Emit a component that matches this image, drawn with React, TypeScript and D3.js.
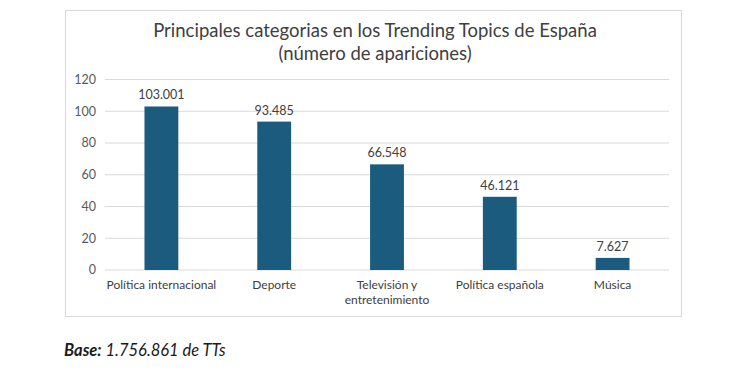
import React from "react";
import * as d3 from "d3";

const categories = ["Política internacional", "Deporte", "Televisión y\nentretenimiento", "Política española", "Música"];
const values = [103.001, 93.485, 66.548, 46.121, 7.627];
const valueLabels = ["103.001", "93.485", "66.548", "46.121", "7.627"];
const yTicks = [0, 20, 40, 60, 80, 100, 120];
const titleLines = ["Principales categorias en los Trending Topics de España", "(número de apariciones)"];

export default function App() {
  const W = 750, H = 375;
  const left = 105, right = 669, top = 79.5, bottom = 270;
  const x = d3.scaleBand<string>().domain(categories).range([left, right]).paddingInner(0.7).paddingOuter(0.35);
  const y = d3.scaleLinear().domain([0, 120]).range([bottom, top]);
  const font = "Lato, 'Open Sans', sans-serif";
  return (
    <svg width={W} height={H} style={{ position: "absolute", left: 0, top: 0, background: "#fff" }} fontFamily={font}>
      <rect x={0} y={0} width={W} height={H} fill="#fff" />
      <rect x={65.5} y={10.5} width={616} height={306} fill="#fff" stroke="#d9d9d9" strokeWidth={1} />
      {titleLines.map((t, i) => (
        <text key={i} x={375} y={36.5 + i * 23} textAnchor="middle" fontSize={18.5} fill="#404040">{t}</text>
      ))}
      {yTicks.map((t) => (
        <g key={t}>
          <line x1={left} x2={right} y1={y(t)} y2={y(t)} stroke="#d9d9d9" strokeWidth={1} />
          <text x={96} y={y(t)} dy="0.35em" textAnchor="end" fontSize={12.5} fill="#595959">{t}</text>
        </g>
      ))}
      {categories.map((c, i) => {
        const bx = x(c)!;
        const bw = x.bandwidth();
        const cx = bx + bw / 2;
        return (
          <g key={c}>
            <rect x={bx} y={y(values[i])} width={bw} height={y(0) - y(values[i])} fill="#1b5c7e" />
            <text x={cx} y={y(values[i]) - 7} textAnchor="middle" fontSize={12.5} fill="#404040">{valueLabels[i]}</text>
            {c.split("\n").map((line, j) => (
              <text key={j} x={cx} y={289 + j * 15} textAnchor="middle" fontSize={12} fill="#404040">{line}</text>
            ))}
          </g>
        );
      })}
      <text x={64} y={356} fontSize={16.5} fill="#1a1a1a" fontStyle="italic">
        <tspan fontWeight="bold">Base:</tspan> 1.756.861 de TTs
      </text>
    </svg>
  );
}
